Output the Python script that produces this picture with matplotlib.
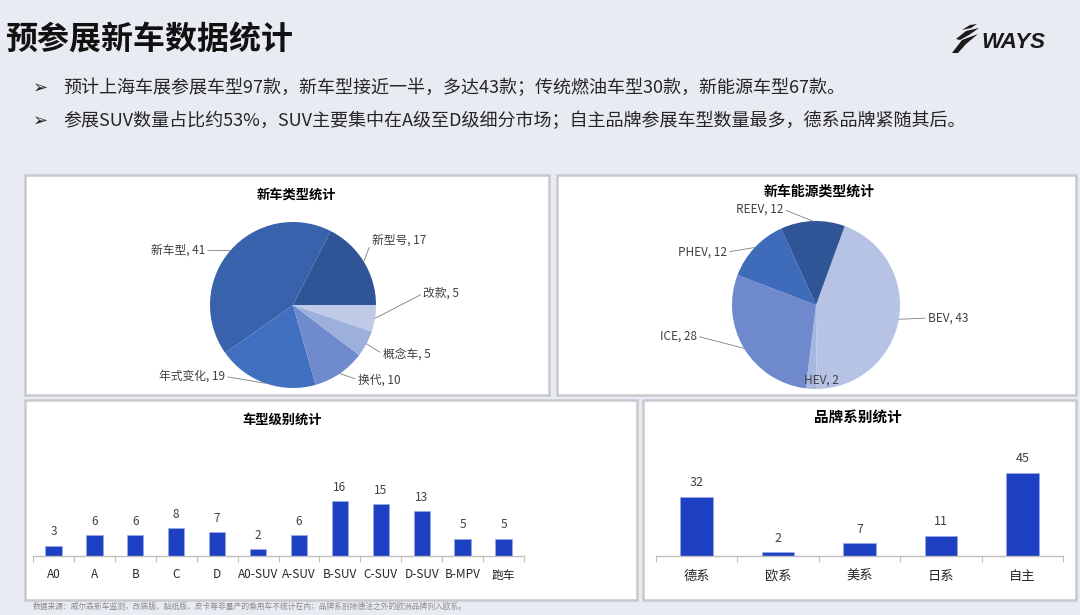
"""Recreate the auto-show new model statistics slide."""

import matplotlib
matplotlib.use("Agg")
import matplotlib.pyplot as plt
import numpy as np
from matplotlib.patches import Polygon, Rectangle

plt.rcParams["font.family"] = ["Noto Sans CJK SC", "DejaVu Sans"]

W, H = 1080, 615

# ---- data ----
TITLE = "预参展新车数据统计"
BULLETS = [
    "预计上海车展参展车型97款，新车型接近一半，多达43款；传统燃油车型30款，新能源车型67款。",
    "参展SUV数量占比约53%，SUV主要集中在A级至D级细分市场；自主品牌参展车型数量最多，德系品牌紧随其后。",
]
FOOTNOTE = "数据来源：威尔森新车监测，改装版、贴纸版、皮卡等非量产的乘用车不统计在内；品牌系别除德法之外的欧洲品牌列入欧系。"

type_title = "新车类型统计"
type_labels = ["新型号", "新车型", "年式变化", "换代", "概念车", "改款"]
type_values = [17, 41, 19, 10, 5, 5]

energy_title = "新车能源类型统计"
energy_labels = ["BEV", "HEV", "ICE", "PHEV", "REEV"]
energy_values = [43, 2, 28, 12, 12]

level_title = "车型级别统计"
level_labels = ["A0", "A", "B", "C", "D", "A0-SUV", "A-SUV", "B-SUV", "C-SUV", "D-SUV", "B-MPV", "跑车"]
level_values = [3, 6, 6, 8, 7, 2, 6, 16, 15, 13, 5, 5]

brand_title = "品牌系别统计"
brand_labels = ["德系", "欧系", "美系", "日系", "自主"]
brand_values = [32, 2, 7, 11, 45]

# ---- styles / layout ----
BG = "#e9ebf2"
BAR_COLOR = "#1e40c2"
TEXT_DARK = "#404040"
type_colors = ["#2f5597", "#3862ab", "#4270c0", "#6f8bcd", "#9dafdc", "#bfcae6"]
energy_colors = ["#b6c3e4", "#a7b7df", "#6e8acc", "#3f6bbb", "#2f5597"]

# label positions in pie units (x, y, ha, leader line)
type_label_pos = [
    (0.95, 0.78, "left", True),
    (-1.06, 0.66, "right", True),
    (-0.82, -0.86, "right", True),
    (0.78, -0.90, "left", True),
    (1.08, -0.59, "left", True),
    (1.57, 0.14, "left", True),
]
energy_label_pos = [
    (1.33, -0.155, "left", True),
    (0.07, -0.89, "center", False),
    (-1.42, -0.37, "right", True),
    (-1.06, 0.63, "right", True),
    (-0.39, 1.14, "right", True),
]


def box(x0, y0, x1, y1):
    """Pixel box (top-left origin) to figure fraction rect."""
    return [x0 / W, 1 - y1 / H, (x1 - x0) / W, (y1 - y0) / H]


def fx(x):
    return x / W


def fy(y):
    return 1 - y / H


fig = plt.figure(figsize=(W / 100, H / 100), dpi=100, facecolor=BG)

# panels
for x0, y0, x1, y1 in [(25, 175, 549, 395), (557, 175, 1076, 395), (25, 400, 637, 600), (643, 400, 1076, 600)]:
    fig.add_artist(Rectangle((fx(x0), fy(y1)), fx(x1 - x0), (y1 - y0) / H, transform=fig.transFigure,
                             facecolor="white", edgecolor="#c8c9cf", linewidth=1.8, zorder=0))

# header
fig.text(fx(5), fy(40), TITLE, fontsize=23, fontweight="bold", color="#111111", va="center", ha="left")
for i, line in enumerate(BULLETS):
    y = fy(88 + 33 * i)
    fig.text(fx(33), y, "➢", fontsize=13, family="DejaVu Sans", color="#262626", va="center")
    fig.text(fx(63), y, line, fontsize=13, color="#262626", va="center")

# logo
fig.text(fx(981), fy(43), "WAYS", fontsize=16, fontweight="bold", style="italic",
         family="Liberation Sans", color="#1a1a1a", va="center", ha="left")
for pts in [
    [(952, 53), (962, 40), (978, 34), (966, 44), (958, 53)],
    [(956, 39), (966, 31), (979, 28), (969, 35), (960, 40)],
    [(962, 30), (970, 25), (977, 24), (971, 28)],
]:
    fig.add_artist(Polygon([(fx(a), fy(b)) for a, b in pts], closed=True, transform=fig.transFigure,
                           facecolor="#1a1a1a", edgecolor="none"))

fig.text(fx(33), fy(607), FOOTNOTE, fontsize=5.6, color="#8c8c8c", va="center", ha="left")


def draw_pie(cx, cy, r, values, labels, colors, layout, startangle, counterclock):
    ax = fig.add_axes(box(cx - r, cy - r, cx + r, cy + r))
    wedges, _ = ax.pie(values, colors=colors, startangle=startangle, counterclock=counterclock,
                       radius=1.0, wedgeprops=dict(linewidth=0))
    ax.set_xlim(-1, 1)
    ax.set_ylim(-1, 1)
    ax.set_aspect("equal")
    ax.axis("off")
    for w, lab, val, (tx, ty, ha, leader) in zip(wedges, labels, values, layout):
        mid = np.deg2rad((w.theta1 + w.theta2) / 2)
        anchor = (np.cos(mid), np.sin(mid))
        text = f"{lab}, {val}"
        if leader:
            rel = (1, 0.5) if ha == "right" else (0, 0.5)
            ax.annotate(text, xy=anchor, xytext=(tx, ty), ha=ha, va="center", fontsize=8.5,
                        color=TEXT_DARK, annotation_clip=False,
                        arrowprops=dict(arrowstyle="-", color="#7f7f7f", lw=0.6,
                                        shrinkA=0, shrinkB=0, relpos=rel))
        else:
            ax.text(tx, ty, text, ha=ha, va="center", fontsize=8.5, color=TEXT_DARK)
    return ax


draw_pie(293, 305, 83, type_values, type_labels, type_colors, type_label_pos, 0, True)
fig.text(fx(296), fy(195), type_title, fontsize=9.5, fontweight="bold", ha="center", va="center")

draw_pie(816, 305, 84, energy_values, energy_labels, energy_colors, energy_label_pos, 70, False)
fig.text(fx(819), fy(192), energy_title, fontsize=10, fontweight="bold", ha="center", va="center")


def draw_bars(rect, labels, values, ymax, label_size, value_size, pad):
    ax = fig.add_axes(rect)
    ax.set_facecolor("none")
    x = np.arange(len(values))
    ax.bar(x, values, width=0.4, color=BAR_COLOR, edgecolor="#9aaae6", linewidth=0.5, zorder=2)
    for xi, v in zip(x, values):
        ax.annotate(str(v), (xi, v), xytext=(0, 10), textcoords="offset points",
                    ha="center", va="center", fontsize=value_size, color=TEXT_DARK)
    ax.set_xlim(-0.5, len(values) - 0.5)
    ax.set_ylim(0, ymax)
    for side in ("top", "left", "right"):
        ax.spines[side].set_visible(False)
    ax.spines["bottom"].set_color("#bfbfbf")
    ax.spines["bottom"].set_linewidth(1.0)
    ax.set_yticks([])
    ax.set_xticks(x)
    ax.set_xticklabels(labels, fontsize=label_size, color="#262626")
    ax.tick_params(axis="x", which="major", length=0, pad=pad)
    ax.set_xticks(np.arange(len(values) + 1) - 0.5, minor=True)
    ax.tick_params(axis="x", which="minor", length=4, color="#bfbfbf", width=0.8)
    return ax


draw_bars(box(33, 440, 524, 556), level_labels, level_values, 116 / 3.44, 8.5, 8.5, 9)
fig.text(fx(282), fy(420), level_title, fontsize=9.5, fontweight="bold", ha="center", va="center")

draw_bars(box(656, 440, 1063, 556), brand_labels, brand_values, 116 / 1.85, 9.5, 9, 10)
fig.text(fx(858), fy(417), brand_title, fontsize=10.5, fontweight="bold", ha="center", va="center")

fig.savefig("out.png", dpi=100, facecolor=fig.get_facecolor())
